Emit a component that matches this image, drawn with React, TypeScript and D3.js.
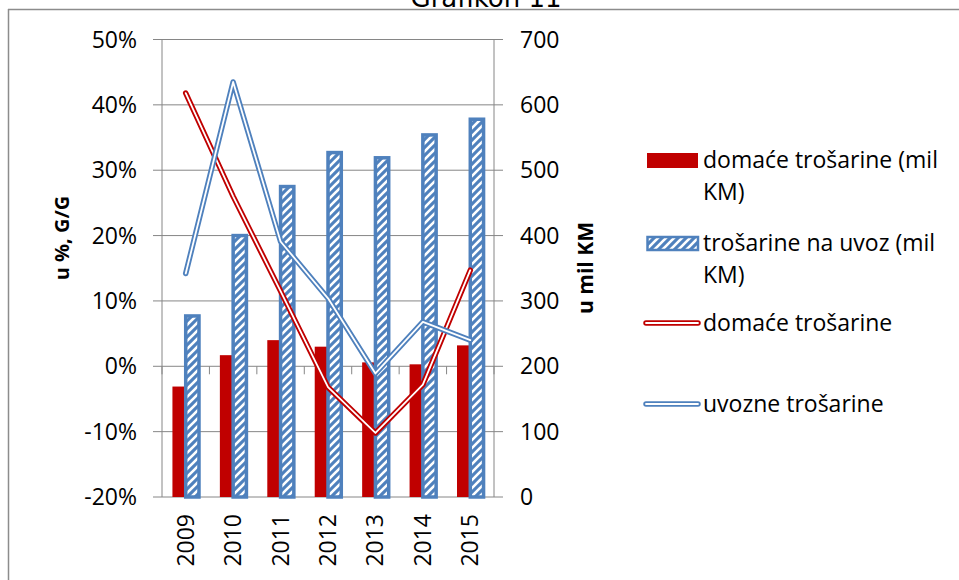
import React from "react";
import * as d3 from "d3";

// godine (kategorije)
const years = ["2009", "2010", "2011", "2012", "2013", "2014", "2015"];
// stupci, desna os (mil KM)
const domaceMil = [169, 217, 240, 230, 206, 203, 232];
const uvozMil = [277, 400, 475, 527, 519, 554, 578];
// linije, lijeva os (u %, G/G)
const domaceRast = [41.8, 26.0, 11.5, -3.2, -10.2, -2.8, 14.7];
const uvozRast = [14.2, 43.5, 19.1, 10.4, -1.1, 6.8, 4.0];

const leftTicks = [-20, -10, 0, 10, 20, 30, 40, 50];
const rightTicks = [0, 100, 200, 300, 400, 500, 600, 700];

const legendItems = [
  { lines: ["domaće trošarine (mil", "KM)"], kind: "bar" },
  { lines: ["trošarine na uvoz (mil", "KM)"], kind: "hatch" },
  { lines: ["domaće trošarine"], kind: "redline" },
  { lines: ["uvozne trošarine"], kind: "blueline" },
];

const RED = "#C00000";
const BLUE = "#4F81BD";
const GRID = "#868686";
const FONT = "'Open Sans', sans-serif";

const W = 959;
const H = 580;

export default function App() {
  const left = 162;
  const right = 494;
  const top = 39.5;
  const bottom = 497;

  const x = d3.scaleBand().domain(years).range([left, right]);
  const yL = d3.scaleLinear().domain([-20, 50]).range([bottom, top]);
  const yR = d3.scaleLinear().domain([0, 700]).range([bottom, top]);
  const bw = x.bandwidth() * 0.28;
  const cx = (d: string) => (x(d) as number) + x.bandwidth() / 2;

  const line = d3
    .line<number>()
    .x((_, i) => cx(years[i]))
    .y((d) => yL(d));

  // dvostruka linija kao u Excelu
  const doubleLine = (data: number[], color: string) => (
    <g fill="none" strokeLinecap="round" strokeLinejoin="round">
      <path d={line(data) as string} stroke={color} strokeWidth={5.5} />
      <path d={line(data) as string} stroke="#fff" strokeWidth={1.8} />
    </g>
  );

  // legenda
  const legendRows = [160, 243, 323, 404];

  return (
    <svg
      width={W}
      height={H}
      style={{ position: "absolute", left: 0, top: 0, background: "#fff" }}
      fontFamily={FONT}
    >
      <defs>
        <pattern id="hatch" width={8} height={8} patternUnits="userSpaceOnUse">
          <rect width={8} height={8} fill={BLUE} />
          <path d="M-2,2 L2,-2 M0,8 L8,0 M6,10 L10,6" stroke="#fff" strokeWidth={2.6} />
        </pattern>
      </defs>

      {/* naslov (odrezan) i okvir */}
      <text x={486} y={7} textAnchor="middle" fontFamily="'DejaVu Sans'" fontSize={26} fill="#000">
        Grafikon 11
      </text>
      <line x1={8} x2={W} y1={9.5} y2={9.5} stroke="#8c8c8c" strokeWidth={1.5} />
      <line x1={8.5} x2={8.5} y1={9} y2={H} stroke="#8c8c8c" strokeWidth={1.5} />

      {/* mreža i osi */}
      {leftTicks.map((t) => (
        <line key={t} x1={left - 9} x2={right + 9} y1={yL(t)} y2={yL(t)} stroke={GRID} strokeWidth={1} />
      ))}
      <line x1={left} x2={left} y1={top} y2={bottom} stroke={GRID} />
      <line x1={right} x2={right} y1={top} y2={bottom} stroke={GRID} />
      {years.map((d) => (
        <line key={d} x1={x(d) as number} x2={x(d) as number} y1={yL(0)} y2={yL(0) + 8} stroke={GRID} />
      ))}
      <line x1={right} x2={right} y1={yL(0)} y2={yL(0) + 8} stroke={GRID} />

      {leftTicks.map((t) => (
        <text key={t} x={137} y={yL(t)} dy="0.35em" textAnchor="end" fontSize={23} fill="#000">
          {`${t}%`}
        </text>
      ))}
      {rightTicks.map((t) => (
        <text key={t} x={520} y={yR(t)} dy="0.35em" fontSize={23} fill="#000">
          {t}
        </text>
      ))}
      <text
        transform="translate(62,238) rotate(-90)"
        textAnchor="middle"
        dy="0.35em"
        fontSize={20}
        fontWeight="bold"
        fill="#000"
      >
        u %, G/G
      </text>
      <text
        transform="translate(586,268) rotate(-90)"
        textAnchor="middle"
        dy="0.35em"
        fontSize={21}
        fontWeight="bold"
        fill="#000"
      >
        u mil KM
      </text>
      {years.map((d) => (
        <text
          key={d}
          transform={`translate(${cx(d)},514) rotate(-90)`}
          textAnchor="end"
          dy="0.35em"
          fontSize={23}
          fill="#000"
        >
          {d}
        </text>
      ))}

      {/* stupci */}
      {years.map((d, i) => (
        <rect
          key={d}
          x={cx(d) - bw}
          y={yR(domaceMil[i])}
          width={bw}
          height={yR(0) - yR(domaceMil[i])}
          fill={RED}
        />
      ))}
      {years.map((d, i) => (
        <rect
          key={d}
          x={cx(d)}
          y={yR(uvozMil[i])}
          width={bw}
          height={yR(0) - yR(uvozMil[i])}
          fill="url(#hatch)"
          stroke={BLUE}
          strokeWidth={3.5}
        />
      ))}

      {/* linije */}
      {doubleLine(domaceRast, RED)}
      {doubleLine(uvozRast, BLUE)}

      {/* legenda */}
      {legendItems.map((item, i) => {
        const y = legendRows[i];
        return (
          <g key={i}>
            {item.kind === "bar" && <rect x={647} y={y - 7} width={51} height={15} fill={RED} />}
            {item.kind === "hatch" && (
              <rect x={647.5} y={y - 6} width={50.5} height={13} fill="url(#hatch)" stroke={BLUE} strokeWidth={2.5} />
            )}
            {(item.kind === "redline" || item.kind === "blueline") && (
              <g strokeLinecap="round">
                <line x1={646} x2={698} y1={y} y2={y} stroke={item.kind === "redline" ? RED : BLUE} strokeWidth={5.5} />
                <line x1={646} x2={698} y1={y} y2={y} stroke="#fff" strokeWidth={1.8} />
              </g>
            )}
            {item.lines.map((t, j) => (
              <text key={j} x={703} y={y + j * 32} dy="0.35em" fontSize={23} fill="#000">
                {t}
              </text>
            ))}
          </g>
        );
      })}
    </svg>
  );
}
